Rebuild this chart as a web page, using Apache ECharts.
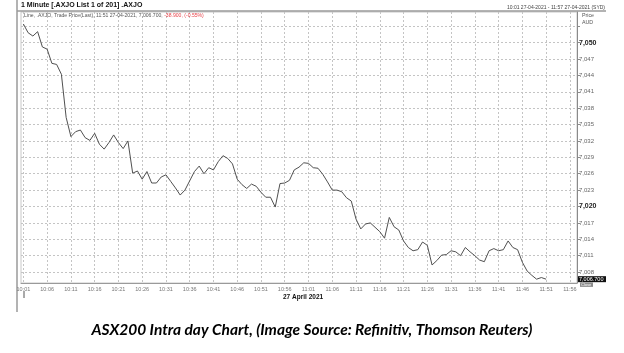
<!DOCTYPE html>
<html lang="en">
<head>
    <meta charset="UTF-8">
    <title>ASX200 Intra day</title>
    <style>
        html, body { margin: 0; padding: 0; background: #fff; }
    </style>
</head>
<body>
<script src="https://cdn.jsdelivr.net/npm/echarts@6/dist/echarts.min.js"></script>
<div id="main" style="width: 624px;height:353px;"></div>

<script>
    // one close per minute, 10:01 .. 11:51
    var startTime = '10:01';
    var prices = [
        7053.4, 7051.8, 7051.2, 7052.0, 7049.2, 7048.8, 7046.2, 7046.0, 7044.2, 7036.3,
        7032.8, 7033.7, 7034.0, 7032.6, 7032.1, 7033.4, 7031.4, 7030.5, 7031.7, 7033.1,
        7031.7, 7030.6, 7032.0, 7026.1, 7026.5, 7025.0, 7026.4, 7024.3, 7024.3, 7025.4,
        7025.8, 7024.6, 7023.4, 7022.1, 7023.0, 7024.7, 7026.4, 7027.4, 7026.0, 7027.1,
        7026.7, 7028.2, 7029.3, 7028.8, 7027.8, 7025.0, 7024.0, 7023.3, 7024.1, 7023.7,
        7022.6, 7021.7, 7021.7, 7019.9, 7024.2, 7024.3, 7024.8, 7026.7, 7027.2, 7028.0,
        7027.9, 7027.1, 7027.0, 7025.9, 7024.5, 7023.0, 7023.0, 7022.7, 7021.6, 7021.0,
        7017.7, 7015.9, 7016.8, 7017.0, 7016.2, 7015.4, 7014.2, 7018.0, 7016.3, 7015.7,
        7013.7, 7012.5, 7011.9, 7012.1, 7013.5, 7012.9, 7009.3, 7010.1, 7011.1, 7011.2,
        7011.9, 7011.7, 7011.0, 7012.5, 7011.7, 7011.0, 7010.2, 7009.9, 7011.9, 7012.3,
        7011.9, 7012.1, 7013.7, 7012.5, 7012.1, 7009.8, 7008.2, 7007.4, 7006.7, 7007.0, 7006.7
    ];
    var timeTicks = ['10:01', '10:06', '10:11', '10:16', '10:21', '10:26', '10:31', '10:36', '10:41', '10:46',
        '10:51', '10:56', '11:01', '11:06', '11:11', '11:16', '11:21', '11:26', '11:31', '11:36',
        '11:41', '11:46', '11:51', '11:56'];
    // grid lines every 3 points, the top one (7,053) carries no label
    var priceTicks = [7008, 7011, 7014, 7017, 7020, 7023, 7026, 7029, 7032, 7035,
        7038, 7041, 7044, 7047, 7050, 7053];
    var priceLabels = [7008, 7011, 7014, 7017, 7020, 7023, 7026, 7029, 7032, 7035,
        7038, 7041, 7044, 7047, 7050];
    var boldTicks = [7020, 7050];

    // minutes after 10:00
    function toMin(t) {
        var p = t.split(':');
        return (parseInt(p[0]) - 10) * 60 + parseInt(p[1]);
    }
    function toTime(m) {
        var h = 10 + Math.floor(m / 60), mm = m % 60;
        return h + ':' + (mm < 10 ? '0' : '') + mm;
    }
    var m0 = toMin(startTime);
    var lineData = prices.map(function (v, i) { return [m0 + i, v]; });
    var lastPrice = prices[prices.length - 1];

    var myChart = echarts.init(document.getElementById('main'));

    var option = {
        animation: false,
        backgroundColor: '#fff',
        grid: {
            left: 21, right: 47, top: 12, bottom: 70,
            show: true, borderColor: '#c8c8c8', borderWidth: 1
        },
        xAxis: {
            type: 'value',
            min: 0.5,
            max: 117.5,
            axisLine: { show: true, lineStyle: { color: '#9a9a9a' } },
            axisTick: { show: false, customValues: timeTicks.map(toMin) },
            axisLabel: {
                customValues: timeTicks.map(toMin),
                formatter: function (v) { return toTime(v); },
                fontSize: 5.5, color: '#777', margin: 3,
                fontFamily: 'Liberation Sans'
            },
            splitLine: { show: true, lineStyle: { color: '#c4c4c4', type: [2, 2], width: 1 } }
        },
        yAxis: {
            type: 'value',
            position: 'right',
            min: 7006,
            max: 7055.6,
            axisLine: { show: true, lineStyle: { color: '#8a8a8a' } },
            axisTick: { show: true, length: 3, customValues: priceTicks, lineStyle: { color: '#8a8a8a' } },
            axisLabel: {
                customValues: priceLabels,
                margin: 2,
                fontFamily: 'Liberation Sans',
                formatter: function (v) {
                    var s = echarts.format.addCommas(v);
                    return boldTicks.indexOf(v) >= 0 ? '{b|' + s + '}' : '{n|' + s + '}';
                },
                rich: {
                    n: { fontSize: 6, color: '#666', fontFamily: 'Liberation Sans' },
                    b: { fontSize: 7, color: '#222', fontWeight: 'bold', fontFamily: 'Liberation Sans' }
                }
            },
            splitLine: { show: true, lineStyle: { color: '#c4c4c4', type: [2, 2], width: 1 } }
        },
        series: [{
            type: 'line',
            data: lineData,
            showSymbol: false,
            lineStyle: { color: '#505050', width: 1 }
        }]
    };
    myChart.setOption(option);

    var lastY = myChart.convertToPixel({ gridIndex: 0 }, [1, lastPrice])[1];
    var f = 'Liberation Sans';

    myChart.setOption({
        graphic: [
            { type: 'line', shape: { x1: 17, y1: 0, x2: 17, y2: 312 }, style: { stroke: '#9a9a9a', lineWidth: 1.5 } },
            { type: 'line', shape: { x1: 17, y1: 11, x2: 606, y2: 11 }, style: { stroke: '#9a9a9a', lineWidth: 1.5 } },
            { type: 'text', x: 21, y: 1.5, style: { text: '1 Minute [.AXJO List 1 of 201] .AXJO', font: 'bold 7px ' + f, fill: '#111' } },
            { type: 'text', x: 605, y: 5.5, style: { text: '10:01 27-04-2021 - 11:57 27-04-2021 (SYD)', font: '5px ' + f, fill: '#444', align: 'right' } },
            {
                type: 'text', x: 24, y: 13.5, z: 10,
                style: {
                    text: '{g|Line, .AXJO, Trade Price(Last), 11:51 27-04-2021, 7,006.700, }{r|-38.900, (-0.55%)}',
                    rich: {
                        g: { font: '5.1px ' + f, fill: '#555' },
                        r: { font: '5.1px ' + f, fill: '#e8434a' }
                    }
                }
            },
            { type: 'text', x: 582, y: 13, style: { text: 'Price', font: '5.3px ' + f, fill: '#555' } },
            { type: 'text', x: 582, y: 20, style: { text: 'AUD', font: '5.3px ' + f, fill: '#555' } },
            { type: 'rect', shape: { x: 578, y: lastY - 3, width: 28, height: 6 }, style: { fill: '#111' }, z: 10 },
            { type: 'text', x: 579, y: lastY - 2.6, z: 11, style: { text: '7,006.700', font: '5.5px ' + f, fill: '#fff' } },
            { type: 'rect', shape: { x: 580, y: lastY + 3.2, width: 13, height: 4.5 }, style: { fill: '#8c8c8c' }, z: 10 },
            { type: 'text', x: 581, y: lastY + 3.4, z: 11, style: { text: 'Close', font: '4px ' + f, fill: '#fff' } },
            { type: 'line', shape: { x1: 24, y1: 291, x2: 24, y2: 298 }, style: { stroke: '#555', lineWidth: 1 } },
            { type: 'text', x: 283, y: 294, style: { text: '27 April 2021', font: 'bold 6.5px ' + f, fill: '#111' } },
            {
                type: 'text', x: 312, y: 330,
                style: {
                    text: 'ASX200 Intra day Chart, (Image Source: Refinitiv, Thomson Reuters)',
                    font: 'italic bold 15.5px Lato', fill: '#000', align: 'center', verticalAlign: 'middle'
                }
            }
        ]
    });
</script>


</body>
</html>
